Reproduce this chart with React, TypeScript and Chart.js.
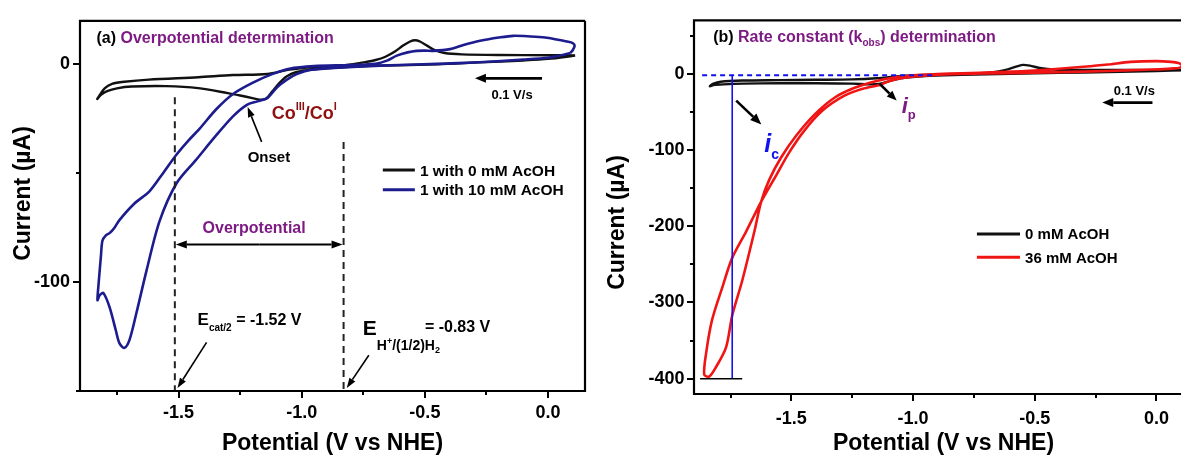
import React, { useEffect, useRef } from "react";
import { Chart, registerables } from "chart.js";

Chart.register(...registerables);

const FAMILY = "'Liberation Sans', Arial, Helvetica, sans-serif";
const PURPLE = "#7D1A83";
const DARKRED = "#8E1010";
const NAVY = "#1C1C8F";
const RED = "#F01515";
const BLUE = "#1212EE";

// ---------- Panel (a) ----------
const A_X_MAJOR = [-1.5, -1.0, -0.5, 0.0];
const A_X_MINOR = [-1.75, -1.25, -0.75, -0.25];
const A_Y_MAJOR = [0, -100];
const A_Y_MINOR = [-50, -150];

const A_BLACK_X = [0.11, 0.0, -0.1, -0.28, -0.45, -0.68, -0.85, -0.96, -1.02, -1.06, -1.09, -1.12, -1.145, -1.17, -1.2, -1.25, -1.3, -1.42, -1.55, -1.69, -1.75, -1.79, -1.815, -1.83, -1.822, -1.8, -1.77, -1.72, -1.62, -1.42, -1.28, -1.14, -1.05, -0.95, -0.88, -0.8, -0.75, -0.7, -0.66, -0.62, -0.59, -0.56, -0.54, -0.52, -0.49, -0.46, -0.42, -0.35, -0.2, 0.0, 0.11];
const A_BLACK_Y = [4.0, 2.5, 1.8, 0.9, 0.0, -0.6, -1.5, -2.4, -3.5, -5.5, -8.5, -12.5, -15.8, -16.2, -15.5, -14.3, -13.2, -10.9, -10.0, -10.2, -11.0, -12.3, -14.0, -15.9, -14.5, -11.0, -9.0, -8.0, -7.0, -5.9, -4.9, -4.4, -2.4, -1.2, -0.9, 0.0, 0.9, 2.0, 3.5, 6.0, 8.5, 10.5, 11.1, 10.5, 8.5, 6.5, 5.2, 4.6, 4.3, 4.2, 4.1];

const A_BLUE_X = [0.09, 0.04, 0.0, -0.1, -0.28, -0.45, -0.68, -0.85, -0.96, -1.02, -1.06, -1.1, -1.14, -1.18, -1.224, -1.28, -1.35, -1.43, -1.508, -1.577, -1.63, -1.671, -1.699, -1.72, -1.74, -1.755, -1.78, -1.805, -1.82, -1.829, -1.824, -1.815, -1.809, -1.795, -1.78, -1.76, -1.74, -1.68, -1.618, -1.56, -1.508, -1.46, -1.415, -1.346, -1.28, -1.2, -1.12, -1.05, -0.95, -0.8, -0.7, -0.654, -0.614, -0.57, -0.533, -0.5, -0.467, -0.398, -0.34, -0.276, -0.2, -0.142, -0.07, -0.012, 0.04, 0.077, 0.1, 0.108, 0.1, 0.09];
const A_BLUE_Y = [5.2, 3.8, 3.0, 2.2, 1.0, 0.2, -0.6, -1.5, -2.5, -4.5, -7.0, -10.5, -15.5, -17.0, -18.7, -24.0, -33.0, -44.0, -54.6, -72.0, -94.7, -114.2, -126.5, -130.2, -128.0, -122.0, -111.5, -105.0, -106.0, -108.3, -100.0, -88.0, -81.0, -78.5, -77.5, -75.0, -71.5, -64.0, -58.3, -49.5, -41.4, -35.0, -29.6, -20.5, -13.7, -8.5, -4.5, -2.0, -0.8, -0.3, 0.3, 1.7, 4.0, 5.5, 6.2, 6.3, 6.2, 7.0, 9.0, 10.8, 12.3, 13.1, 12.8, 12.3, 11.3, 10.5, 9.8, 8.5, 6.5, 5.2];

const A_LEGEND = ["1 with 0 mM AcOH", "1 with 10 mM AcOH"];
const A_ECAT = -1.515;
const A_EH = -0.83;

// ---------- Panel (b) ----------
const B_X_MAJOR = [-1.5, -1.0, -0.5, 0.0];
const B_X_MINOR = [-1.75, -1.25, -0.75, -0.25];
const B_Y_MAJOR = [0, -100, -200, -300, -400];
const B_Y_MINOR = [50, -50, -150, -250, -350];

const B_BLACK_X = [0.12, 0.0, -0.2, -0.4, -0.6, -0.8, -0.95, -1.05, -1.1, -1.14, -1.18, -1.25, -1.4, -1.55, -1.7, -1.78, -1.82, -1.835, -1.82, -1.79, -1.7, -1.55, -1.4, -1.25, -1.15, -1.05, -0.95, -0.8, -0.68, -0.62, -0.58, -0.55, -0.52, -0.48, -0.42, -0.3, -0.1, 0.12];
const B_BLACK_Y = [4.5, 3.5, 2.0, 1.0, 0.0, -1.5, -3.0, -6.0, -10.0, -13.5, -14.0, -13.0, -12.5, -12.5, -13.0, -14.0, -15.0, -16.5, -13.0, -10.5, -9.0, -8.5, -8.0, -7.5, -6.0, -3.0, -1.5, -0.5, 1.5, 5.0, 9.0, 11.5, 10.5, 7.5, 5.5, 5.0, 4.8, 4.5];

const B_RED_X = [0.09, 0.03, -0.05, -0.2, -0.4, -0.6, -0.8, -0.95, -1.05, -1.1, -1.137, -1.207, -1.282, -1.372, -1.446, -1.508, -1.566, -1.624, -1.686, -1.743, -1.784, -1.826, -1.85, -1.858, -1.838, -1.809, -1.768, -1.743, -1.702, -1.652, -1.624, -1.591, -1.541, -1.479, -1.405, -1.323, -1.24, -1.15, -1.08, -1.0, -0.9, -0.8, -0.65, -0.5, -0.4, -0.3, -0.2, -0.107, 0.0, 0.06, 0.09, 0.105, 0.1, 0.09];
const B_RED_Y = [7.4, 6.0, 5.2, 3.5, 2.0, 0.8, -0.5, -2.5, -6.0, -10.0, -14.7, -19.8, -28.9, -48.4, -74.3, -102.9, -135.3, -167.7, -207.0, -241.5, -280.4, -323.2, -366.0, -394.6, -397.2, -384.3, -358.4, -317.0, -271.5, -206.9, -167.7, -139.2, -109.3, -80.8, -53.6, -31.5, -18.5, -9.5, -5.0, -2.0, -0.5, 0.5, 2.0, 4.0, 6.5, 9.0, 12.0, 15.5, 16.5, 15.5, 13.9, 11.0, 8.5, 7.4];

const B_LEGEND = ["0 mM AcOH", "36 mM AcOH"];
const B_IC_X = -1.743;
const B_IC_Y = -400;

// ---------- helpers ----------
type Pt = { x: number; y: number };
const pts = (xs: number[], ys: number[]): Pt[] => xs.map((x, i) => ({ x, y: ys[i] }));
const fnt = (size: number, italic = false) => `${italic ? "italic " : ""}bold ${size}px ${FAMILY}`;

type Part = { t: string; size: number; color: string; dy?: number; italic?: boolean };

function drawParts(ctx: CanvasRenderingContext2D, x: number, y: number, parts: Part[], align: "left" | "center" = "left") {
  ctx.save();
  ctx.textBaseline = "alphabetic";
  ctx.textAlign = "left";
  let total = 0;
  for (const p of parts) {
    ctx.font = fnt(p.size, p.italic);
    total += ctx.measureText(p.t).width;
  }
  let cx = align === "center" ? x - total / 2 : x;
  for (const p of parts) {
    ctx.font = fnt(p.size, p.italic);
    ctx.fillStyle = p.color;
    ctx.fillText(p.t, cx, y + (p.dy || 0));
    cx += ctx.measureText(p.t).width;
  }
  ctx.restore();
}

function drawArrow(ctx: CanvasRenderingContext2D, x1: number, y1: number, x2: number, y2: number, color: string, lw: number, hl: number, hw: number) {
  const a = Math.atan2(y2 - y1, x2 - x1);
  const bx = x2 - hl * Math.cos(a);
  const by = y2 - hl * Math.sin(a);
  ctx.save();
  ctx.strokeStyle = color;
  ctx.fillStyle = color;
  ctx.lineWidth = lw;
  ctx.beginPath();
  ctx.moveTo(x1, y1);
  ctx.lineTo(bx, by);
  ctx.stroke();
  ctx.beginPath();
  ctx.moveTo(x2, y2);
  ctx.lineTo(bx + (hw / 2) * Math.sin(a), by - (hw / 2) * Math.cos(a));
  ctx.lineTo(bx - (hw / 2) * Math.sin(a), by + (hw / 2) * Math.cos(a));
  ctx.closePath();
  ctx.fill();
  ctx.restore();
}

function line(ctx: CanvasRenderingContext2D, x1: number, y1: number, x2: number, y2: number, color: string, lw: number, dash: number[] = []) {
  ctx.save();
  ctx.strokeStyle = color;
  ctx.lineWidth = lw;
  ctx.setLineDash(dash);
  ctx.beginPath();
  ctx.moveTo(x1, y1);
  ctx.lineTo(x2, y2);
  ctx.stroke();
  ctx.restore();
}

function axesPlugin(xMajor: number[], xMinor: number[], yMajor: number[], yMinor: number[], yTitleX: number, yTitleY: number, xTitleY: number, showRight: boolean) {
  return {
    id: "axesBox",
    afterDraw(chart: any) {
      const ctx: CanvasRenderingContext2D = chart.ctx;
      const { left, right, top, bottom } = chart.chartArea;
      const sx = chart.scales.x;
      const sy = chart.scales.y;
      ctx.save();
      ctx.strokeStyle = "#000";
      ctx.lineWidth = 2.2;
      ctx.beginPath();
      ctx.moveTo(right, top);
      ctx.lineTo(left, top);
      ctx.lineTo(left, bottom);
      ctx.lineTo(right, bottom);
      if (showRight) ctx.lineTo(right, top);
      ctx.stroke();
      ctx.lineWidth = 2;
      const tick = (vals: number[], len: number, horiz: boolean) => {
        for (const v of vals) {
          if (horiz) {
            const p = Math.round(sx.getPixelForValue(v));
            ctx.beginPath();
            ctx.moveTo(p, bottom);
            ctx.lineTo(p, bottom + len);
            ctx.stroke();
          } else {
            const p = Math.round(sy.getPixelForValue(v));
            ctx.beginPath();
            ctx.moveTo(left, p);
            ctx.lineTo(left - len, p);
            ctx.stroke();
          }
        }
      };
      tick(xMajor, 7, true);
      tick(xMinor, 4, true);
      tick(yMajor, 7, false);
      tick(yMinor, 4, false);
      // axis titles
      ctx.fillStyle = "#000";
      ctx.font = fnt(23);
      ctx.textAlign = "center";
      ctx.textBaseline = "middle";
      ctx.fillText("Potential (V vs NHE)", (left + right) / 2, xTitleY);
      ctx.translate(yTitleX, yTitleY);
      ctx.rotate(-Math.PI / 2);
      ctx.fillText("Current (\u00B5A)", 0, 0);
      ctx.restore();
    },
  };
}

function baseScales(xMin: number, xMax: number, yMin: number, yMax: number, xMajor: number[], yMajor: number[], yWidth: number, xHeight: number, xPad: number, yPad: number) {
  const tickFont = { family: FAMILY, size: 18, weight: "bold" as const };
  return {
    x: {
      type: "linear" as const,
      min: xMin,
      max: xMax,
      afterBuildTicks: (s: any) => {
        s.ticks = xMajor.map((v) => ({ value: v }));
      },
      afterFit: (s: any) => {
        s.height = xHeight;
      },
      grid: { display: false, drawTicks: false },
      border: { display: false },
      ticks: { padding: xPad, color: "#000", font: tickFont, maxRotation: 0, autoSkip: false, callback: (v: any) => Number(v).toFixed(1) },
      title: { display: false },
    },
    y: {
      type: "linear" as const,
      min: yMin,
      max: yMax,
      afterBuildTicks: (s: any) => {
        s.ticks = yMajor.map((v) => ({ value: v }));
      },
      afterFit: (s: any) => {
        s.width = yWidth;
      },
      grid: { display: false, drawTicks: false },
      border: { display: false },
      ticks: { padding: yPad, color: "#000", font: tickFont, autoSkip: false, callback: (v: any) => String(Math.round(Number(v))) },
      title: { display: false },
    },
  };
}

function configA(): any {
  const ann = {
    id: "annA",
    afterDatasetsDraw(chart: any) {
      const ctx: CanvasRenderingContext2D = chart.ctx;
      const X = (v: number) => chart.scales.x.getPixelForValue(v);
      const Y = (v: number) => chart.scales.y.getPixelForValue(v);
      const bottom = chart.chartArea.bottom;
      // title
      drawParts(ctx, X(-1.8333), Y(9.62), [
        { t: "(a) ", size: 16, color: "#000" },
        { t: "Overpotential determination", size: 16, color: PURPLE },
      ]);
      // scan-rate arrow
      drawArrow(ctx, X(-0.0244), Y(-6.43), X(-0.2967), Y(-6.43), "#000", 2.6, 11, 9);
      drawParts(ctx, X(-0.1463), Y(-15.86), [{ t: "0.1 V/s", size: 13, color: "#000" }], "center");
      // Co label
      drawParts(ctx, X(-1.122), Y(-24.98), [
        { t: "Co", size: 18, color: DARKRED },
        { t: "III", size: 11, color: DARKRED, dy: -9 },
        { t: "/Co", size: 18, color: DARKRED },
        { t: "I", size: 11, color: DARKRED, dy: -9 },
      ]);
      // Onset
      drawParts(ctx, X(-1.2195), Y(-45.03), [{ t: "Onset", size: 15, color: "#000" }]);
      drawArrow(ctx, X(-1.1626), Y(-35.6), X(-1.2195), Y(-19.64), "#000", 1.6, 10, 7);
      // legend
      const ly = [-48.5, -57.6];
      const lc = ["#111", NAVY];
      for (let i = 0; i < 2; i++) {
        line(ctx, X(-0.6707), Y(ly[i]), X(-0.5407), Y(ly[i]), lc[i], 3);
        drawParts(ctx, X(-0.5203), Y(ly[i]) + 5.6, [{ t: A_LEGEND[i], size: 15.5, color: "#000" }]);
      }
      // dashed verticals
      line(ctx, X(A_ECAT), Y(-15.1), X(A_ECAT), bottom, "#222", 2, [7, 5]);
      line(ctx, X(A_EH), Y(-35.6), X(A_EH), bottom, "#222", 2, [7, 5]);
      // double arrow
      const ay = Y(-82.7);
      const xa = X(A_ECAT) + 1;
      const xb = X(A_EH) - 1;
      drawArrow(ctx, (xa + xb) / 2, ay, xa, ay, "#000", 2, 11, 8);
      drawArrow(ctx, (xa + xb) / 2, ay, xb, ay, "#000", 2, 11, 8);
      drawParts(ctx, X(-1.4024), Y(-77.4), [{ t: "Overpotential", size: 16, color: PURPLE }]);
      // E cat/2
      drawParts(ctx, X(-1.4228), Y(-119.9), [
        { t: "E", size: 17, color: "#000" },
        { t: "cat/2", size: 10, color: "#000", dy: 6 },
        { t: " = -1.52 V", size: 16, color: "#000" },
      ]);
      drawArrow(ctx, X(-1.3862), Y(-127.7), X(-1.5041), Y(-148.6), "#000", 1.6, 10, 7);
      // E H+/(1/2)H2
      drawParts(ctx, X(-0.752), Y(-124.5), [{ t: "E", size: 21, color: "#000" }]);
      drawParts(ctx, X(-0.6951), Y(-131.3), [
        { t: "H", size: 14, color: "#000" },
        { t: "+", size: 9, color: "#000", dy: -6 },
        { t: "/(1/2)H", size: 14, color: "#000" },
        { t: "2", size: 9, color: "#000", dy: 3 },
      ]);
      drawParts(ctx, X(-0.5), Y(-123.1), [{ t: "= -0.83 V", size: 16, color: "#000" }]);
      drawArrow(ctx, X(-0.7276), Y(-133.6), X(-0.8171), Y(-148.6), "#000", 1.6, 10, 7);
    },
  };
  return {
    type: "scatter",
    data: {
      datasets: [
        { label: A_LEGEND[0], data: pts(A_BLACK_X, A_BLACK_Y), showLine: true, borderColor: "#111", borderWidth: 2.4, pointRadius: 0, tension: 0.3, order: 2 },
        { label: A_LEGEND[1], data: pts(A_BLUE_X, A_BLUE_Y), showLine: true, borderColor: NAVY, borderWidth: 2.6, pointRadius: 0, tension: 0.3, order: 1 },
      ],
    },
    options: {
      animation: false,
      responsive: false,
      devicePixelRatio: 1,
      layout: { padding: { top: 18, right: 5, left: 0, bottom: 0 } },
      plugins: { legend: { display: false }, tooltip: { enabled: false } },
      scales: baseScales(-1.9, 0.15, -150, 20, A_X_MAJOR, A_Y_MAJOR, 80, 68, 11, 10),
    },
    plugins: [ann, axesPlugin(A_X_MAJOR, A_X_MINOR, A_Y_MAJOR, A_Y_MINOR, 24, 193.5, 444, true)],
  };
}

function configB(): any {
  const ann = {
    id: "annB",
    afterDatasetsDraw(chart: any) {
      const ctx: CanvasRenderingContext2D = chart.ctx;
      const X = (v: number) => chart.scales.x.getPixelForValue(v);
      const Y = (v: number) => chart.scales.y.getPixelForValue(v);
      drawParts(ctx, X(-1.8214), Y(41.7), [
        { t: "(b) ", size: 16, color: "#000" },
        { t: "Rate constant (k", size: 16, color: PURPLE },
        { t: "obs", size: 10, color: PURPLE, dy: 4 },
        { t: ") determination", size: 16, color: PURPLE },
      ]);
      // reference lines
      line(ctx, X(-1.8667), Y(-1.9), X(-0.919), Y(-1.9), BLUE, 2, [5, 4]);
      line(ctx, X(B_IC_X), Y(-1.9), X(B_IC_X), Y(B_IC_Y), BLUE, 1.6);
      line(ctx, X(-1.875), Y(B_IC_Y), X(-1.7019), Y(B_IC_Y), "#000", 1.6);
      // i_c
      drawArrow(ctx, X(-1.7266), Y(-35.3), X(-1.6236), Y(-66.5), "#000", 2.6, 11, 9);
      drawParts(ctx, X(-1.6112), Y(-102.9), [
        { t: "i", size: 25, color: BLUE, italic: true },
        { t: "c", size: 14, color: BLUE, dy: 7 },
      ]);
      // i_p
      drawArrow(ctx, X(-1.1374), Y(-13.2), X(-1.0674), Y(-35.3), "#000", 2.6, 10, 8);
      drawParts(ctx, X(-1.0468), Y(-50.9), [
        { t: "i", size: 22, color: PURPLE, italic: true },
        { t: "p", size: 13, color: PURPLE, dy: 6 },
      ]);
      // scan rate
      drawParts(ctx, X(-0.0909), Y(-28.4), [{ t: "0.1 V/s", size: 13, color: "#000" }], "center");
      drawArrow(ctx, X(-0.0166), Y(-37.9), X(-0.2227), Y(-37.9), "#000", 2.6, 11, 9);
      // legend
      const ly = [-210.3, -240.6];
      const lc = ["#111", RED];
      for (let i = 0; i < 2; i++) {
        line(ctx, X(-0.7377), Y(ly[i]), X(-0.5606), Y(ly[i]), lc[i], 3);
        drawParts(ctx, X(-0.54), Y(ly[i]) + 5.4, [{ t: B_LEGEND[i], size: 15, color: "#000" }]);
      }
    },
  };
  return {
    type: "scatter",
    data: {
      datasets: [
        { label: B_LEGEND[0], data: pts(B_BLACK_X, B_BLACK_Y), showLine: true, borderColor: "#111", borderWidth: 2.4, pointRadius: 0, tension: 0.3, order: 2 },
        { label: B_LEGEND[1], data: pts(B_RED_X, B_RED_Y), showLine: true, borderColor: RED, borderWidth: 2.6, pointRadius: 0, tension: 0.3, order: 1 },
      ],
    },
    options: {
      animation: false,
      responsive: false,
      devicePixelRatio: 1,
      layout: { padding: { top: 17, right: 7, left: 0, bottom: 0 } },
      plugins: { legend: { display: false }, tooltip: { enabled: false } },
      scales: baseScales(-1.9, 0.15, -420, 70, B_X_MAJOR, B_Y_MAJOR, 104, 65, 14, 9.5),
    },
    plugins: [ann, axesPlugin(B_X_MAJOR, B_X_MINOR, B_Y_MAJOR, B_Y_MINOR, 28, 222.5, 444, true)],
  };
}

function Panel({ make, left, width }: { make: () => any; left: number; width: number }) {
  const ref = useRef<HTMLCanvasElement>(null);
  useEffect(() => {
    const chart = new Chart(ref.current as HTMLCanvasElement, make());
    return () => chart.destroy();
  }, [make]);
  return (
    <canvas
      ref={ref}
      width={width}
      height={459}
      style={{ position: "absolute", left, top: 0, width, height: 459, display: "block" }}
    />
  );
}

export default function App() {
  return (
    <div
      style={{
        position: "fixed",
        left: 0,
        top: 0,
        width: 1181,
        height: 459,
        overflow: "hidden",
        background: "#fff",
      }}
    >
      <Panel make={configA} left={0} width={590} />
      <Panel make={configB} left={590} width={610} />
    </div>
  );
}
